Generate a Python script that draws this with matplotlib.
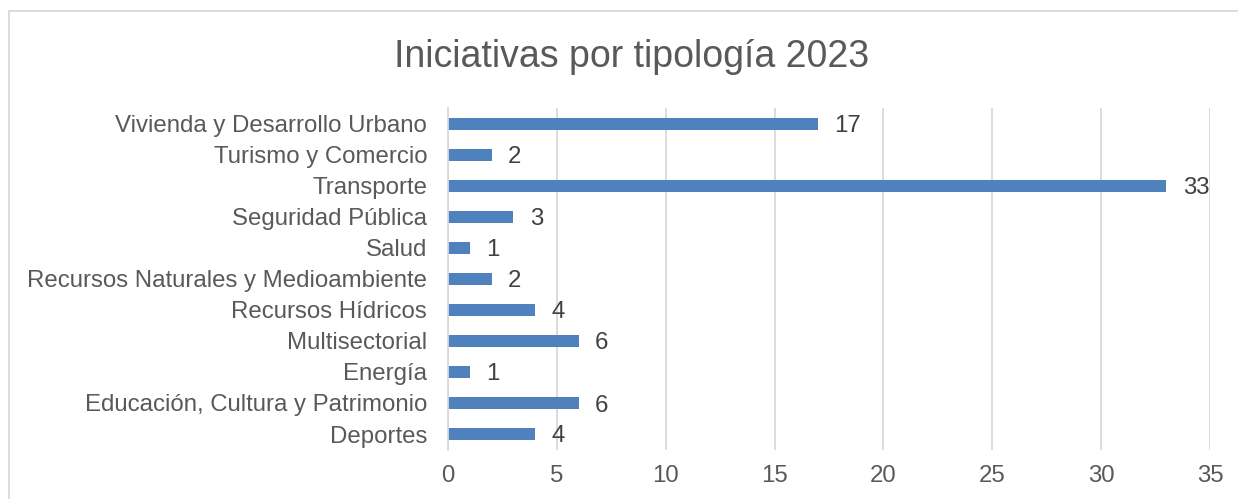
import matplotlib
matplotlib.use("Agg")
import matplotlib.pyplot as plt
from matplotlib.patches import Rectangle

plt.rcParams['font.family'] = ['Liberation Sans', 'DejaVu Sans']

categories = ["Deportes", "Educación, Cultura y Patrimonio", "Energía", "Multisectorial",
              "Recursos Hídricos", "Recursos Naturales y Medioambiente", "Salud",
              "Seguridad Pública", "Transporte", "Turismo y Comercio",
              "Vivienda y Desarrollo Urbano"]
values = [4, 6, 1, 6, 4, 2, 1, 3, 33, 2, 17]
xticks = [0, 5, 10, 15, 20, 25, 30, 35]
title = "Iniciativas por tipología 2023"

W, H = 1238, 499
fig = plt.figure(figsize=(W/100, H/100), dpi=100)
fig.patches.append(Rectangle((9/W, -0.1), 1.2, 1.1 - 11/H, transform=fig.transFigure,
                             fill=False, edgecolor="#d9d9d9", linewidth=1.3))

ax = fig.add_axes([448/W, 1 - 449.5/H, (1210-448)/W, 341/H])
txt = "#595959"
ax.barh(range(len(categories)), values, height=0.4, color="#4f81bd", zorder=3)
for i, v in enumerate(values):
    ax.text(v + 0.75, i, str(v), va="center_baseline", ha="left", fontsize=17.3, color="#404040")

ax.set_xlim(0, 35)
ax.set_ylim(-0.5, len(categories) - 0.5)
ax.set_xticks(xticks)
ax.set_yticks(range(len(categories)))
ax.set_yticklabels(categories)
ax.tick_params(axis="both", length=0, labelsize=17.3, labelcolor=txt)
ax.tick_params(axis="y", pad=15)
ax.tick_params(axis="x", pad=11)
ax.grid(axis="x", color="#d9d9d9", linewidth=1.3, zorder=0)
for s in ["top", "right", "bottom"]:
    ax.spines[s].set_visible(False)
ax.spines["left"].set_color("#d9d9d9")
ax.spines["left"].set_linewidth(1.3)
ax.spines["left"].set_zorder(4)

fig.text(632/W, 1 - 57/H, title, ha="center", va="center", fontsize=27, color=txt)

fig.savefig("out.png", dpi=100)
